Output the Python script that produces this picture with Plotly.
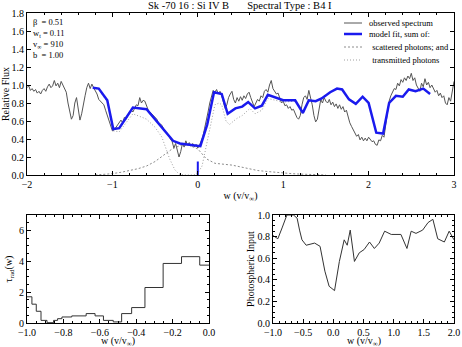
import plotly.graph_objects as go

# ---------------- data ----------------
obs_w = [-2.00,-1.98,-1.96,-1.94,-1.92,-1.90,-1.88,-1.86,-1.84,-1.82,-1.80,-1.78,-1.76,-1.74,-1.72,-1.70,
         -1.68,-1.66,-1.64,-1.62,-1.60,-1.58,-1.56,-1.54,-1.52,-1.50,-1.48,-1.46,-1.44,-1.42,-1.40,-1.38,
         -1.36,-1.34,-1.32,-1.30,-1.28,-1.26,-1.24,-1.22,-1.20,-1.18,-1.16,-1.14,-1.12,-1.10,-1.08,-1.06,
         -1.04,-1.02,-1.00,-0.98,-0.96,-0.94,-0.92,-0.90,-0.88,-0.86,-0.84,-0.82,-0.80,-0.78,-0.76,-0.74,
         -0.72,-0.70,-0.68,-0.66,-0.64,-0.62,-0.60,-0.58,-0.56,-0.54,-0.52,-0.50,-0.48,-0.46,-0.44,-0.42,
         -0.40,-0.38,-0.36,-0.34,-0.32,-0.30,-0.28,-0.26,-0.24,-0.22,-0.20,-0.18,-0.16,-0.14,-0.12,-0.10,
         -0.08,-0.06,-0.04,-0.02,0.00,0.02,0.04,0.06,0.08,0.10,0.12,0.14,0.16,0.18,0.20,0.22,
         0.24,0.26,0.28,0.30,0.32,0.34,0.36,0.38,0.40,0.42,0.44,0.46,0.48,0.50,0.52,0.54,
         0.56,0.58,0.60,0.62,0.64,0.66,0.68,0.70,0.72,0.74,0.76,0.78,0.80,0.82,0.84,0.86,
         0.88,0.90,0.92,0.94,0.96,0.98,1.00,1.02,1.04,1.06,1.08,1.10,1.12,1.14,1.16,1.18,
         1.20,1.22,1.24,1.26,1.28,1.30,1.32,1.34,1.36,1.38,1.40,1.42,1.44,1.46,1.48,1.50,
         1.52,1.54,1.56,1.58,1.60,1.62,1.64,1.66,1.68,1.70,1.72,1.74,1.76,1.78,1.80,1.82,
         1.84,1.86,1.88,1.90,1.92,1.94,1.96,1.98,2.00,2.02,2.04,2.06,2.08,2.10,2.12,2.14,
         2.16,2.18,2.20,2.22,2.24,2.26,2.28,2.30,2.32,2.34,2.36,2.38,2.40,2.42,2.44,2.46,
         2.48,2.50,2.52,2.54,2.56,2.58,2.60,2.62,2.64,2.66,2.68,2.70,2.72,2.74,2.76,2.78,
         2.80,2.82,2.84,2.86,2.88,2.90,2.92,2.94,2.96,2.98,3.00]
obs_flux = [0.97,0.99,0.94,0.96,0.93,0.95,0.91,0.93,0.90,0.94,0.96,0.93,0.98,1.01,0.97,0.99,
            1.05,0.99,1.02,0.97,1.04,1.00,0.97,0.92,0.80,0.70,0.62,0.66,0.80,0.86,0.74,0.61,
            0.68,0.80,0.88,0.97,1.02,0.96,1.01,0.97,0.94,0.90,0.84,0.82,0.80,0.78,0.72,0.66,
            0.60,0.53,0.49,0.50,0.53,0.56,0.58,0.61,0.58,0.64,0.62,0.67,0.70,0.72,0.70,0.74,
            0.78,0.77,0.86,0.80,0.83,0.82,0.76,0.72,0.70,0.68,0.66,0.63,0.62,0.58,0.57,0.55,
            0.52,0.48,0.47,0.43,0.40,0.37,0.30,0.35,0.28,0.20,0.26,0.35,0.31,0.38,0.33,0.36,
            0.32,0.35,0.31,0.34,0.30,0.33,0.38,0.43,0.52,0.60,0.70,0.80,0.86,0.94,0.92,0.95,
            0.90,0.93,0.88,0.80,0.74,0.78,0.86,0.90,0.93,0.84,0.80,0.86,0.82,0.87,0.83,0.88,
            0.85,0.90,0.92,0.86,0.80,0.76,0.80,0.84,0.82,0.88,0.86,0.93,0.95,0.92,1.00,1.05,
            0.96,0.93,0.90,0.91,0.86,0.80,0.82,0.77,0.78,0.74,0.76,0.72,0.73,0.69,0.64,0.62,
            0.66,0.78,0.86,0.88,0.84,0.94,0.86,0.78,0.66,0.59,0.62,0.76,0.84,0.80,0.86,0.82,
            0.80,0.84,0.78,0.81,0.76,0.79,0.74,0.78,0.73,0.76,0.70,0.72,0.64,0.58,0.54,0.50,
            0.47,0.43,0.45,0.39,0.42,0.38,0.41,0.38,0.42,0.39,0.37,0.38,0.34,0.33,0.39,0.38,
            0.44,0.42,0.55,0.72,0.82,0.88,0.92,0.96,0.95,1.02,0.99,1.06,1.03,1.08,1.05,1.10,
            1.07,1.13,1.05,1.08,1.00,0.96,0.93,1.02,0.98,1.07,1.00,1.03,0.97,1.00,0.96,0.92,
            0.94,0.88,0.91,0.86,0.88,0.80,0.78,0.86,0.82,0.96,1.04]

model_w = [-1.23,-1.16,-1.06,-0.99,-0.92,-0.76,-0.60,-0.29,-0.21,0.03,0.11,0.19,0.28,0.35,0.44,0.52,
           0.59,0.67,0.75,0.82,1.00,1.14,1.23,1.30,1.38,1.45,1.55,1.63,1.69,1.77,1.85,1.93,
           2.00,2.09,2.17,2.24,2.32,2.40,2.47,2.55,2.64,2.72]
model_flux = [0.97,0.96,0.83,0.51,0.52,0.75,0.73,0.38,0.35,0.32,0.56,0.92,0.90,0.68,0.74,0.76,
              0.81,0.74,0.77,0.89,0.83,0.83,0.69,0.83,0.82,0.85,0.92,0.96,0.95,0.84,0.79,0.87,
              0.80,0.47,0.46,0.80,0.88,0.87,0.95,0.93,0.96,0.90]

scat_w = [-1.20,-1.10,-1.00,-0.90,-0.80,-0.70,-0.60,-0.50,-0.40,-0.30,-0.20,-0.10,0.00,0.05,0.10,0.20,
          0.30,0.40,0.50,0.60,0.70,0.80,0.90,1.00,1.10,1.20,1.30,1.40,1.50]
scat_flux = [0.0,0.005,0.015,0.03,0.05,0.07,0.10,0.15,0.22,0.29,0.33,0.33,0.29,0.24,0.18,0.13,
             0.12,0.11,0.09,0.07,0.05,0.04,0.03,0.02,0.015,0.01,0.005,0.003,0.0]

trans_w = [-1.23,-1.16,-1.06,-0.99,-0.92,-0.76,-0.65,-0.60,-0.50,-0.42,-0.33,-0.27,-0.22,-0.15,-0.05,0.00,
           0.05,0.10,0.15,0.20,0.25,0.28,0.33,0.37,0.42,0.46,0.52,0.61,0.67,0.75,0.82,1.00,
           1.14,1.23,1.30,1.38,1.45]
trans_flux = [0.97,0.95,0.81,0.49,0.48,0.68,0.64,0.62,0.53,0.42,0.18,0.06,0.01,0.0,0.0,0.02,
              0.10,0.32,0.56,0.78,0.80,0.78,0.60,0.56,0.60,0.63,0.66,0.74,0.68,0.72,0.85,0.81,
              0.82,0.68,0.82,0.82,0.85]

line_center_w = [0.0, 0.0]
line_center_h = [0.0, 0.15]

tau_edges = [-1.0,-0.973,-0.949,-0.923,-0.89,-0.854,-0.832,-0.808,-0.754,-0.675,-0.626,-0.58,-0.526,
             -0.48,-0.425,-0.352,-0.252,-0.151,-0.051,0.0]
tau_vals = [1.70,1.22,0.76,0.17,0.02,0.17,0.28,0.39,0.46,0.61,0.46,0.17,0.07,0.61,1.0,2.30,3.86,4.30,3.75]

phot_w = [-1.0,-0.92,-0.85,-0.77,-0.66,-0.60,-0.56,-0.52,-0.45,-0.31,-0.22,-0.14,-0.07,0.02,0.10,0.18,
          0.23,0.28,0.35,0.43,0.51,0.60,0.68,0.76,0.85,0.96,1.12,1.22,1.29,1.37,1.48,1.57,
          1.65,1.73,1.84,1.92,2.0]
phot_in = [0.81,0.78,0.88,1.0,1.0,0.97,0.86,0.77,0.72,0.74,0.71,0.48,0.34,0.30,0.57,0.77,
           0.72,0.86,0.57,0.65,0.68,0.75,0.69,0.74,0.85,0.82,0.82,0.69,0.85,0.83,0.86,0.93,
           0.96,0.78,0.75,0.85,0.77]

legend_labels = ["observed spectrum", "model fit, sum of:", " scattered photons; and", " transmitted photons"]
xtitle = "w (v/v<sub>∞</sub>)"

# ---------------- figure ----------------
FONT = "Liberation Serif"
C_OBS = "#555555"
C_MOD = "#1a1aee"
C_SCA = "#8c8c8c"
C_TRA = "#a0a0a0"
fig = go.Figure()

fig.add_trace(go.Scatter(x=obs_w, y=obs_flux, mode="lines", name=legend_labels[0],
                         line=dict(color=C_OBS, width=1), xaxis="x", yaxis="y"))
fig.add_trace(go.Scatter(x=scat_w, y=scat_flux, mode="lines", name=legend_labels[2],
                         line=dict(color=C_SCA, width=1, dash="2px,2px"), xaxis="x", yaxis="y"))
fig.add_trace(go.Scatter(x=trans_w, y=trans_flux, mode="lines", name=legend_labels[3],
                         line=dict(color=C_TRA, width=1, dash="1px,2px"), xaxis="x", yaxis="y"))
fig.add_trace(go.Scatter(x=model_w, y=model_flux, mode="lines", name=legend_labels[1],
                         line=dict(color=C_MOD, width=2.5), xaxis="x", yaxis="y"))
fig.add_trace(go.Scatter(x=line_center_w, y=line_center_h, mode="lines",
                         line=dict(color=C_MOD, width=2), xaxis="x", yaxis="y"))

tau_x = tau_edges
tau_y = tau_vals + [tau_vals[-1]]
fig.add_trace(go.Scatter(x=tau_x, y=tau_y, mode="lines", line_shape="hv",
                         line=dict(color="#333333", width=1), xaxis="x2", yaxis="y2"))
fig.add_trace(go.Scatter(x=phot_w, y=phot_in, mode="lines",
                         line=dict(color="#333333", width=1), xaxis="x3", yaxis="y3"))

W, H = 462, 347
def px(x): return x / W
def py(y): return 1 - y / H

axis_common = dict(showline=True, linecolor="black", linewidth=1, mirror="allticks",
                   ticks="inside", ticklen=4, tickcolor="black", showgrid=False, zeroline=False,
                   automargin=False,
                   tickfont=dict(family=FONT, size=10, color="black"))

tf = dict(family=FONT, size=10, color="black")
fig.update_layout(
    width=W, height=H, margin=dict(l=0, r=0, t=0, b=0),
    paper_bgcolor="white", plot_bgcolor="white",
    font=dict(family=FONT, color="black"),
    showlegend=False,
    xaxis=dict(domain=[px(27), px(454)], range=[-2, 3], dtick=1, anchor="y",
               minor=dict(ticks="inside", ticklen=2, dtick=0.2, tickcolor="black"),
               title=dict(text=xtitle, font=tf, standoff=2),
               **axis_common),
    yaxis=dict(domain=[py(175), py(13)], range=[0, 1.8], dtick=0.2, tickformat=".1f", anchor="x",
               title=dict(text="Relative Flux", font=tf, standoff=1),
               **axis_common),
    xaxis2=dict(domain=[px(27), px(209)], range=[-1, 0], dtick=0.2, tickformat=".1f", anchor="y2",
                minor=dict(ticks="inside", ticklen=2, dtick=0.05, tickcolor="black"),
                **axis_common),
    yaxis2=dict(domain=[py(323), py(215)], range=[0, 7], dtick=2, anchor="x2",
                minor=dict(ticks="inside", ticklen=2, dtick=0.5, tickcolor="black"),
                title=dict(text="τ<sub>rad</sub>(w)", font=tf, standoff=4),
                **axis_common),
    xaxis3=dict(domain=[px(273), px(454)], range=[-1, 2], dtick=0.5, tickformat=".1f", anchor="y3",
                minor=dict(ticks="inside", ticklen=2, dtick=0.1, tickcolor="black"),
                **axis_common),
    yaxis3=dict(domain=[py(323), py(215)], range=[0, 1.0], dtick=0.2, tickformat=".1f", anchor="x3",
                minor=dict(ticks="inside", ticklen=2, dtick=0.05, tickcolor="black"),
                title=dict(text="Photospheric Input", font=tf, standoff=1),
                **axis_common),
)

# bottom x-axis titles
for cx in (118, 363.5):
    fig.add_annotation(x=px(cx), y=py(341), xref="paper", yref="paper", showarrow=False,
                       text=xtitle, font=tf, xanchor="center", yanchor="middle")

# title
fig.add_annotation(x=px(240), y=py(6), xref="paper", yref="paper", showarrow=False,
                   text="Sk -70 16 : Si IV B&nbsp;&nbsp;&nbsp;&nbsp;&nbsp;&nbsp;&nbsp;Spectral Type : B4 I",
                   font=dict(family=FONT, size=10.5, color="black"), xanchor="center", yanchor="middle")
# parameter block
fig.add_annotation(x=px(31), y=py(15), xref="paper", yref="paper", showarrow=False, align="left",
                   text="β&nbsp;&nbsp;= 0.51<br>w<sub>t</sub> = 0.11<br>v<sub>∞</sub> = 910<br>b&nbsp;&nbsp;= 1.00",
                   font=dict(family=FONT, size=8.5, color="black"), xanchor="left", yanchor="top")

# manual legend (decoration, paper coordinates)
leg_rows = [23, 34, 47, 60]
leg_styles = [dict(color=C_OBS, width=1), dict(color=C_MOD, width=2.5),
              dict(color=C_SCA, width=1, dash="2px,2px"), dict(color=C_TRA, width=1, dash="1px,2px")]
leg_text_x = [367, 367, 368, 368]
for row, lab, sty, tx in zip(leg_rows, legend_labels, leg_styles, leg_text_x):
    fig.add_shape(type="line", xref="paper", yref="paper", x0=px(344), x1=px(362),
                  y0=py(row), y1=py(row), line=sty)
    fig.add_annotation(x=px(tx), y=py(row), xref="paper", yref="paper", showarrow=False,
                       text=lab, xanchor="left", yanchor="middle",
                       font=dict(family=FONT, size=8.5, color="black"))

fig.write_html("out.html", config={"displayModeBar": False, "staticPlot": True},
               post_script="document.body.style.margin='0';document.body.style.padding='0';")
